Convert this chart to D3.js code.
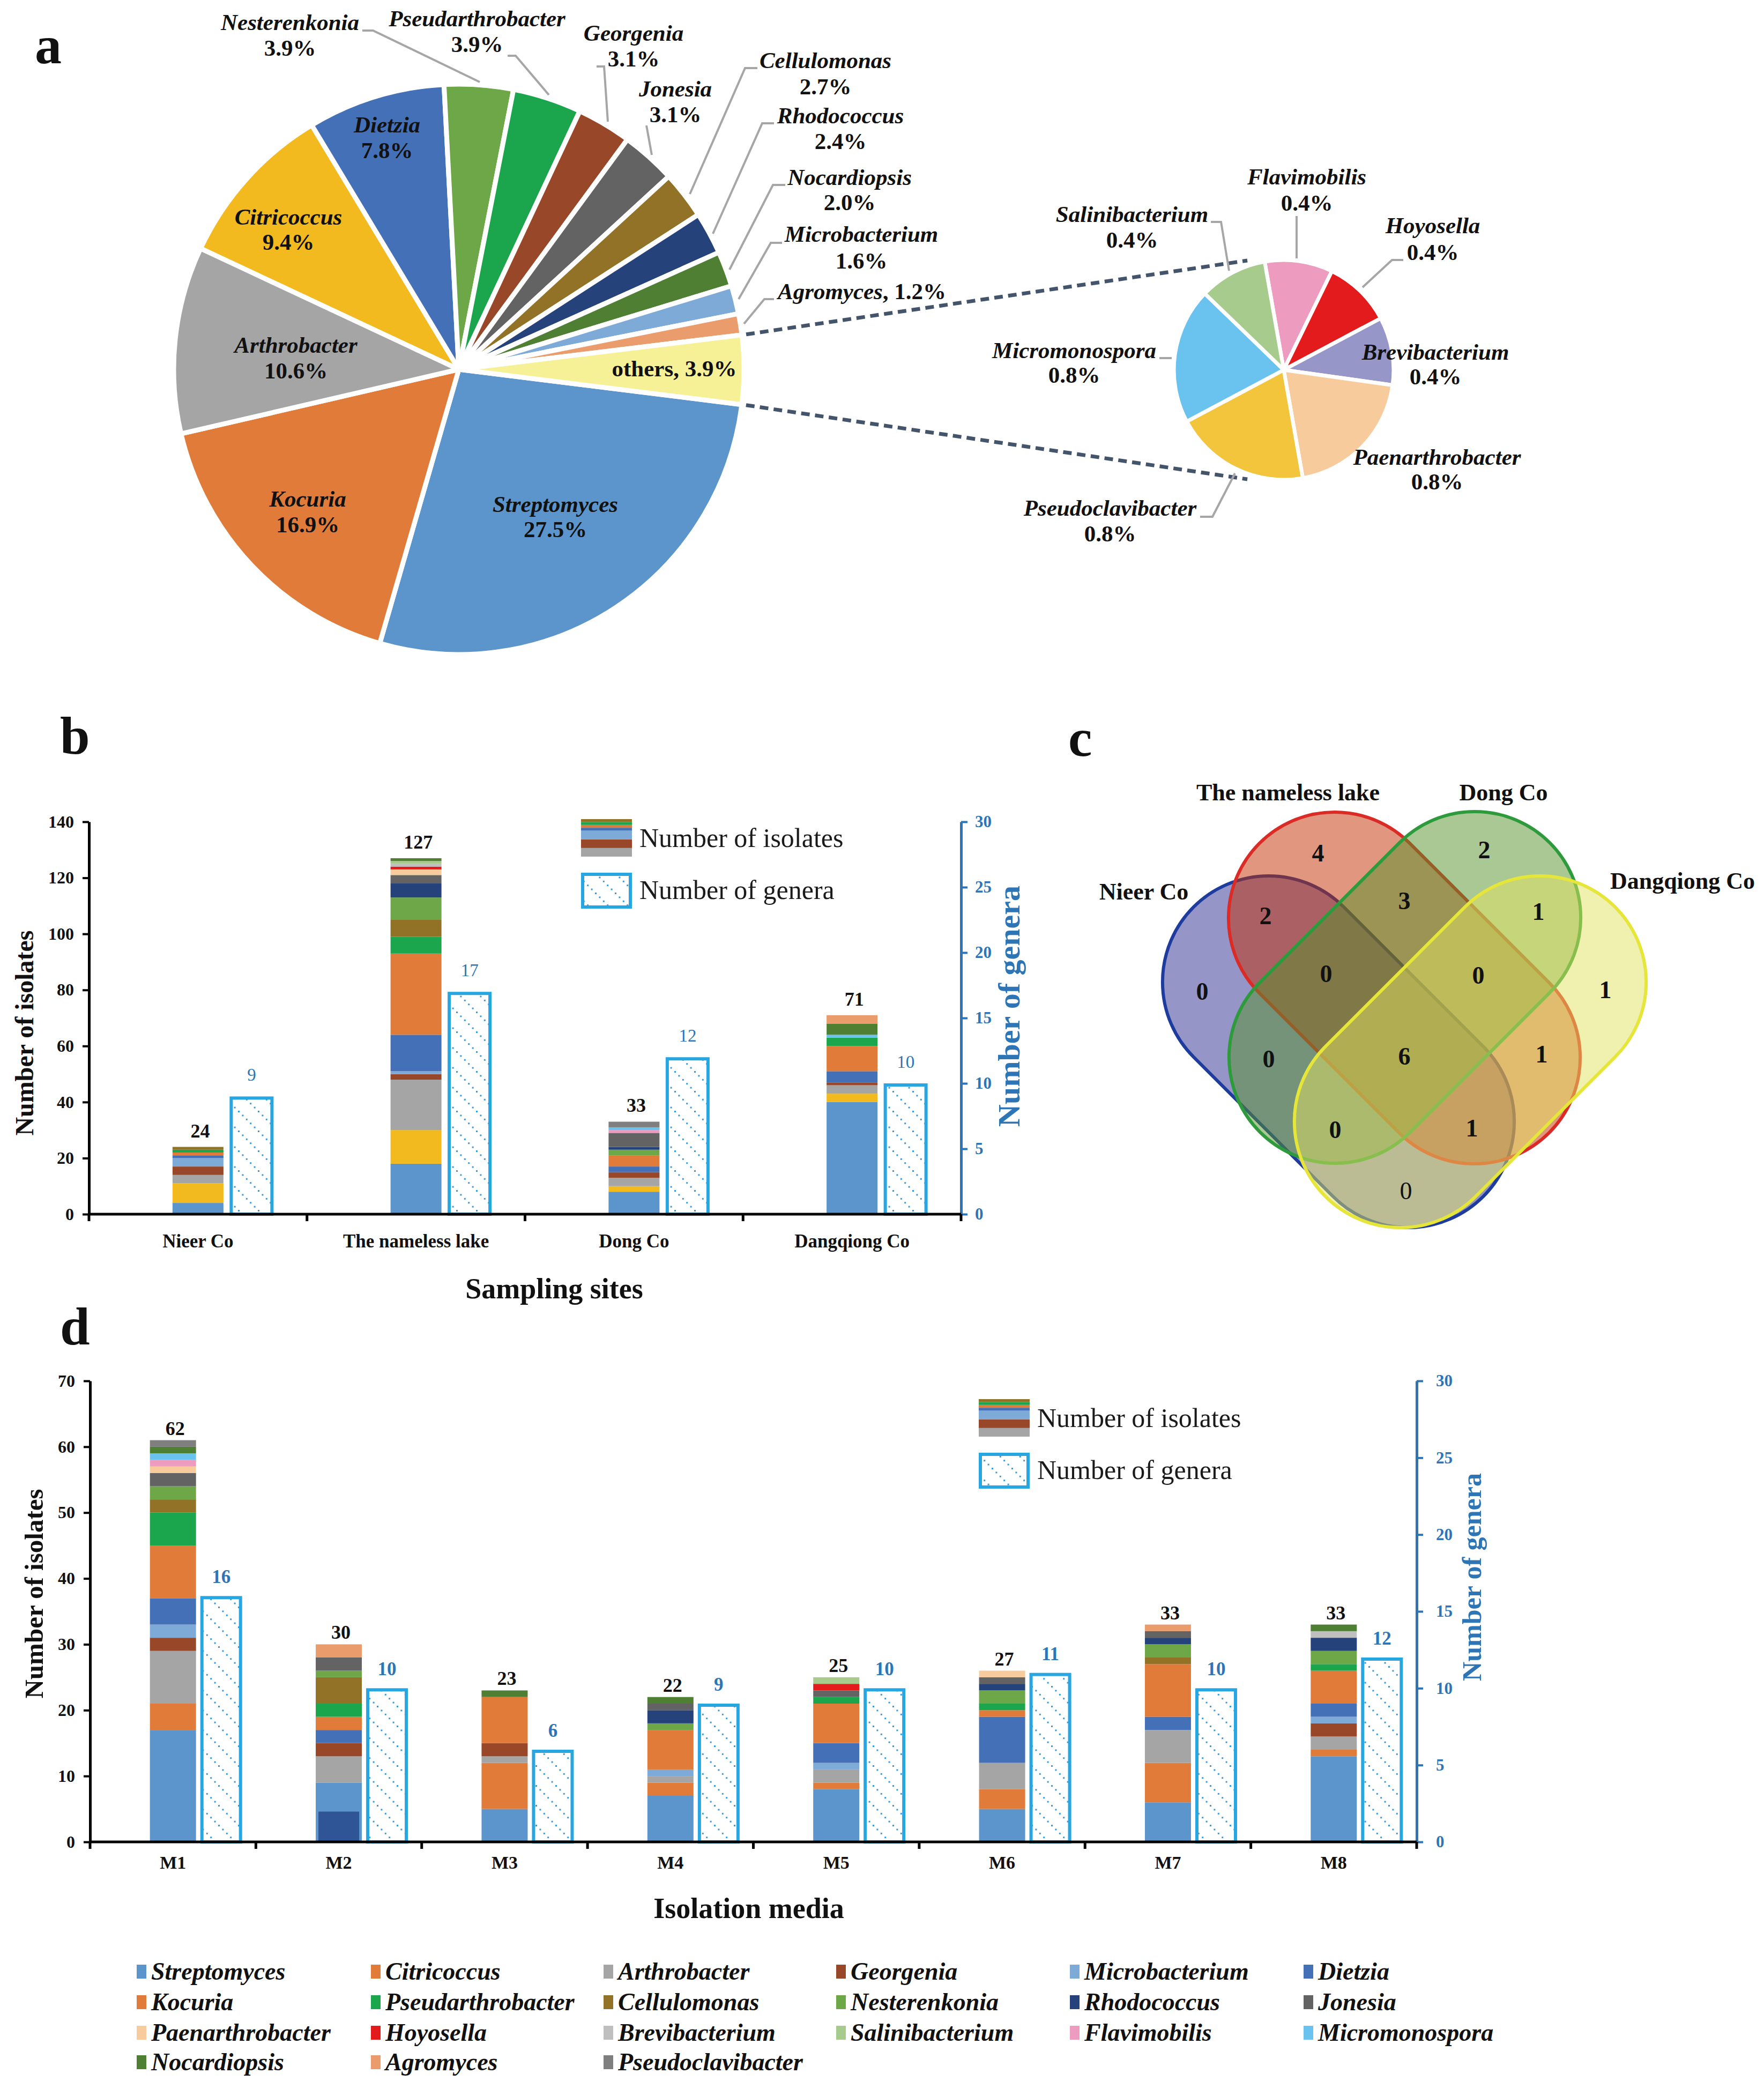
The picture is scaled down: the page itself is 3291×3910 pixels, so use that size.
<!DOCTYPE html>
<html>
<head>
<meta charset="utf-8">
<script src="https://cdn.jsdelivr.net/npm/d3@7"></script>
<style>
body { margin: 0; background: #fff; }
svg { display: block; }
text { font-family: "Liberation Serif", "Times New Roman", serif; }
</style>
</head>
<body>
<div id="chart"></div>
<script>
// ---------- data ----------
// panel a: share of isolates per genus (%)
var pieNames = ["Streptomyces","Kocuria","Arthrobacter","Citricoccus","Dietzia","Nesterenkonia","Pseudarthrobacter","Georgenia","Jonesia","Cellulomonas","Rhodococcus","Nocardiopsis","Microbacterium","Agromyces","others"];
var piePct = [27.5,16.9,10.6,9.4,7.8,3.9,3.9,3.1,3.1,2.7,2.4,2.0,1.6,1.2,3.9];
var otherNames = ["Flavimobilis","Hoyosella","Brevibacterium","Paenarthrobacter","Pseudoclavibacter","Micromonospora","Salinibacterium"];
var otherPct = [0.4,0.4,0.4,0.8,0.8,0.8,0.4];

// stacking order of the genera (= legend order)
var genera = ["Streptomyces","Citricoccus","Arthrobacter","Georgenia","Microbacterium","Dietzia","Kocuria","Pseudarthrobacter","Cellulomonas","Nesterenkonia","Rhodococcus","Jonesia","Paenarthrobacter","Hoyosella","Brevibacterium","Salinibacterium","Flavimobilis","Micromonospora","Nocardiopsis","Agromyces","Pseudoclavibacter"];

// panel b: isolates per genus for each sampling site
var sites = ["Nieer Co","The nameless lake","Dong Co","Dangqiong Co"];
var nieerCo      = [4,7,3,3,3,1,1,1,1,0,0,0,0,0,0,0,0,0,0,0,0];
var namelessLake = [18,12,18,2,1,13,29,6,6,8,5,3,2,1,1,1,0,0,1,0,0];
var dongCo       = [8,2,3,2,0,2,4,0,0,2,1,5,0,0,0,0,1,1,0,0,2];
var dangqiongCo  = [40,3,3,1,0,4,9,3,0,0,0,0,0,0,0,0,0,1,4,3,0];
var siteTotals = [24,127,33,71];
var siteGenera = [9,17,12,10];

// panel c: shared genera
var vennSets = ["Nieer Co","The nameless lake","Dong Co","Dangqiong Co"];
var vennKeys = ["N","L","D","Q","N&L","L&D","D&Q","N&L&D","L&D&Q","N&D","N&L&D&Q","L&Q","N&D&Q","N&L&Q","N&Q"];
var vennCounts = [0,4,2,1,2,3,1,0,0,0,6,1,0,1,0];

// panel d: isolates per genus for each isolation medium
var media = ["M1","M2","M3","M4","M5","M6","M7","M8"];
var m1 = [17,4,8,2,2,4,8,5,2,2,0,2,1,0,0,0,1,1,1,0,1];
var m2 = [9,0,4,2,0,2,2,2,4,1,0,2,0,0,0,0,0,0,0,2,0];
var m3 = [5,7,1,2,0,0,7,0,0,0,0,0,0,0,0,0,0,0,1,0,0];
var m4 = [7,2,1,0,1,0,6,0,0,1,2,1,0,0,0,0,0,0,1,0,0];
var m5 = [8,1,2,0,1,3,6,1,0,0,0,1,0,1,0,1,0,0,0,0,0];
var m6 = [5,3,4,0,0,7,1,1,0,2,1,1,1,0,0,0,0,0,0,0,0];
var m7 = [6,6,5,0,0,2,8,0,1,2,1,1,0,0,0,0,0,0,0,1,0];
var m8 = [13,1,2,2,1,2,5,1,0,2,2,0,0,0,1,0,0,0,1,0,0];
var mediaTotals = [62,30,23,22,25,27,33,33];
var mediaGenera = [16,10,6,9,10,11,10,12];
var m2Inset = 4.6;   // dark overlay seen at the foot of the M2 bar

var bTicks = d3.range(0, 141, 20);
var dTicks = d3.range(0, 71, 10);
var generaTicks = d3.range(0, 31, 5);

// ---------- colours ----------
var genusColors = ["#5B95CB","#E07B39","#A5A5A5","#984828","#7EAAD8","#4470B8","#E07B39","#1BA64E","#917226","#6EA747","#25427A","#636363","#F8CB9D","#E31B1D","#BFBFBF","#A6CB8C","#EE9BC0","#6AC3EF","#4E7F33","#EA9C6C","#7F7F7F"];
var siteColors = genusColors.slice();
siteColors[1] = "#F2BA1E";
var colorD = d3.scaleOrdinal(genera, genusColors);
var colorB = d3.scaleOrdinal(genera, siteColors);
var otherColors = ["#EE9BC0","#E31B1D","#9696C9","#F8CB9D","#F2C53D","#6AC3EF","#A6CB8C"];
var blueText = "#2E75B6", hatchBlue = "#27A6E1";

var W = 3291, H = 3910;
var svg = d3.select("#chart").append("svg")
  .attr("width", W).attr("height", H)
  .attr("viewBox", [0, 0, W, H]);
svg.append("rect").attr("width", W).attr("height", H).attr("fill", "#fff");

var defs = svg.append("defs");
var pat = defs.append("pattern").attr("id", "hatch")
  .attr("patternUnits", "userSpaceOnUse").attr("width", 37).attr("height", 37);
pat.append("rect").attr("width", 37).attr("height", 37).attr("fill", "#fff");
d3.range(5).forEach(function (i) {
  pat.append("rect").attr("x", i * 7.4).attr("y", i * 7.4)
    .attr("width", 3).attr("height", 3).attr("fill", "#3A9AD9");
});

function txt(g, x, y, s, o) {
  o = o || {};
  return g.append("text").attr("x", x).attr("y", y).text(s)
    .attr("font-size", o.size || 40)
    .attr("font-weight", o.weight || "bold")
    .attr("font-style", o.italic ? "italic" : "normal")
    .attr("text-anchor", o.anchor || "middle")
    .attr("fill", o.color || "#111");
}
function stackUp(values) {
  var acc = 0;
  return values.map(function (v, i) {
    var s = { g: genera[i], y0: acc, y1: acc + v };
    acc += v;
    return s;
  }).filter(function (s) { return s.y1 > s.y0; });
}
var pct = function (v) { return d3.format(".1f")(v) + "%"; };

// panel letters
txt(svg, 65, 118, "a", { size: 100, anchor: "start" });
txt(svg, 112, 1406, "b", { size: 100, anchor: "start" });
txt(svg, 1993, 1410, "c", { size: 100, anchor: "start" });
txt(svg, 112, 2508, "d", { size: 100, anchor: "start" });

// ================= panel a =================
var a0 = 97.1 * Math.PI / 180;
var mainC = [856, 689], mainR = 532;
var smallC = [2395, 690], smallR = 205;

var pieMain = d3.pie().sort(null).startAngle(a0).endAngle(a0 + 2 * Math.PI);
var arcMain = d3.arc().innerRadius(0).outerRadius(mainR);
var mainArcs = pieMain(piePct);
svg.append("g").attr("transform", "translate(" + mainC + ")")
  .selectAll("path").data(mainArcs).join("path")
    .attr("d", arcMain)
    .attr("fill", function (d, i) { return pieNames[i] === "others" ? "#F6F096" : colorB(pieNames[i]); })
    .attr("stroke", "#fff").attr("stroke-width", 9).attr("stroke-linejoin", "round");

var b0 = -10 * Math.PI / 180;
var pieSmall = d3.pie().sort(null).startAngle(b0).endAngle(b0 + 2 * Math.PI);
var arcSmall = d3.arc().innerRadius(0).outerRadius(smallR);
svg.append("g").attr("transform", "translate(" + smallC + ")")
  .selectAll("path").data(pieSmall(otherPct)).join("path")
    .attr("d", arcSmall)
    .attr("fill", function (d, i) { return otherColors[i]; })
    .attr("stroke", "#fff").attr("stroke-width", 7).attr("stroke-linejoin", "round");

// dashed connectors from the "others" slice to the secondary pie
var oth = mainArcs[mainArcs.length - 1];
function polar(c, r, ang) { return [c[0] + r * Math.sin(ang), c[1] - r * Math.cos(ang)]; }
var linkAng = 18.4 * Math.PI / 180;
[[oth.startAngle, -linkAng], [oth.endAngle, Math.PI + linkAng]].forEach(function (p) {
  var s = polar(mainC, mainR + 8, p[0]), e = polar(smallC, smallR + 10, p[1]);
  svg.append("line").attr("x1", s[0]).attr("y1", s[1]).attr("x2", e[0]).attr("y2", e[1])
    .attr("stroke", "#44546A").attr("stroke-width", 7).attr("stroke-dasharray", "16 10");
});

// label layout: [x, name baseline, percent baseline]
var pieLabelPos = {
  "Streptomyces": [1036, 955, 1002], "Kocuria": [574, 945, 993], "Arthrobacter": [552, 658, 706],
  "Citricoccus": [538, 419, 466], "Dietzia": [722, 247, 295], "Nesterenkonia": [541, 56, 104],
  "Pseudarthrobacter": [890, 49, 97], "Georgenia": [1182, 76, 124], "Jonesia": [1260, 180, 228],
  "Cellulomonas": [1540, 127, 176], "Rhodococcus": [1568, 230, 278], "Nocardiopsis": [1585, 345, 392],
  "Microbacterium": [1607, 451, 501],
  "Flavimobilis": [2438, 344, 393], "Hoyosella": [2673, 435, 485], "Brevibacterium": [2678, 671, 717],
  "Paenarthrobacter": [2681, 867, 913], "Pseudoclavibacter": [2071, 962, 1010],
  "Micromonospora": [2004, 668, 714], "Salinibacterium": [2112, 414, 462]
};
var leaders = [
  [[676, 57], [696, 57], [895, 153]], [[947, 104], [962, 104], [1024, 177]],
  [[1113, 124], [1127, 124], [1134, 227]], [[1206, 234], [1216, 289]],
  [[1413, 127], [1390, 127], [1287, 362]], [[1444, 230], [1422, 230], [1330, 436]],
  [[1465, 345], [1442, 345], [1361, 503]], [[1459, 453], [1438, 453], [1378, 558]],
  [[1444, 558], [1426, 558], [1388, 604]],
  [[2419, 403], [2419, 482]], [[2618, 485], [2597, 485], [2542, 536]],
  [[2239, 964], [2262, 964], [2304, 883]], [[2163, 668], [2186, 668]],
  [[2259, 414], [2278, 414], [2293, 505]]
];
svg.append("g").selectAll("path").data(leaders).join("path")
  .attr("d", d3.line()).attr("fill", "none")
  .attr("stroke", "#A6A6A6").attr("stroke-width", 4);

var labA = svg.append("g");
pieNames.concat(otherNames).forEach(function (name, i) {
  var v = i < pieNames.length ? piePct[i] : otherPct[i - pieNames.length];
  var p = pieLabelPos[name];
  if (p) {
    txt(labA, p[0], p[1], name, { size: 43, italic: true });
    txt(labA, p[0], p[2], pct(v), { size: 43 });
  }
});
var ag = txt(labA, 1451, 558, "", { size: 43, anchor: "start" });
ag.append("tspan").attr("font-style", "italic").text("Agromyces");
ag.append("tspan").text(", " + pct(piePct[13]));
txt(labA, 1258, 702, "others, " + pct(piePct[14]), { size: 43 });

// ================= shared bar helpers =================
function drawPanel(cfg) {
  var g = svg.append("g");
  var x = d3.scaleBand().domain(cfg.cats).range([cfg.left, cfg.right]);
  var y = d3.scaleLinear().domain([0, cfg.yMax]).range([cfg.bottom, cfg.top]);
  var y2 = d3.scaleLinear().domain([0, 30]).range([cfg.bottom, cfg.top]);
  var bw = x.bandwidth();
  var cx = function (c) { return x(c) + bw / 2; };

  cfg.rows.forEach(function (vals, k) {
    var c = cfg.cats[k];
    g.append("g").selectAll("rect").data(stackUp(vals)).join("rect")
      .attr("x", cx(c) - cfg.barW / 2).attr("width", cfg.barW)
      .attr("y", function (d) { return y(d.y1); })
      .attr("height", function (d) { return y(d.y0) - y(d.y1); })
      .attr("fill", function (d) { return cfg.color(d.g); });
    var top = d3.sum(vals);
    txt(g, cx(c) + 4, y(top) - cfg.totGap, cfg.totals[k], { size: 36 });
    // genera bar (secondary axis)
    var gx = cx(c) + cfg.hOff;
    g.append("rect").attr("x", gx + 3).attr("width", cfg.hW - 6)
      .attr("y", y2(cfg.gen[k]) + 3).attr("height", y2(0) - y2(cfg.gen[k]) - 3)
      .attr("fill", "url(#hatch)").attr("stroke", hatchBlue).attr("stroke-width", 6);
    txt(g, gx + cfg.hW / 2, y2(cfg.gen[k]) - cfg.genGap, cfg.gen[k],
      { size: cfg.genSize, color: blueText, weight: cfg.genWeight });
  });
  if (cfg.extra) cfg.extra(g, x, y, cx);

  // left axis
  var la = g.append("g").attr("transform", "translate(" + cfg.left + ",0)")
    .call(d3.axisLeft(y).tickValues(cfg.ticks).tickSize(12).tickPadding(16).tickSizeOuter(0));
  la.select(".domain").attr("stroke", "#000").attr("stroke-width", 5);
  la.selectAll(".tick line").attr("stroke", "#000").attr("stroke-width", 4);
  la.selectAll("text").attr("font-size", 32).attr("font-weight", "bold")
    .attr("font-family", "Liberation Serif").attr("fill", "#111");
  // right axis
  var ra = g.append("g").attr("transform", "translate(" + cfg.right + ",0)")
    .call(d3.axisRight(y2).tickValues(generaTicks).tickSize(12).tickPadding(cfg.rPad).tickSizeOuter(0));
  ra.select(".domain").attr("stroke", blueText).attr("stroke-width", 5);
  ra.selectAll(".tick line").attr("stroke", blueText).attr("stroke-width", 4);
  ra.selectAll("text").attr("font-size", 31).attr("font-weight", "bold")
    .attr("font-family", "Liberation Serif").attr("fill", blueText);
  // bottom axis with ticks on the category borders
  g.append("line").attr("x1", cfg.left).attr("x2", cfg.right)
    .attr("y1", cfg.bottom).attr("y2", cfg.bottom)
    .attr("stroke", "#000").attr("stroke-width", 5);
  g.append("g").selectAll("line").data(cfg.cats.map(function (c) { return x(c); }).concat([cfg.right]))
    .join("line").attr("x1", function (d) { return d; }).attr("x2", function (d) { return d; })
    .attr("y1", cfg.bottom).attr("y2", cfg.bottom + 13)
    .attr("stroke", "#000").attr("stroke-width", 5);
  cfg.cats.forEach(function (c) { txt(g, cx(c), cfg.catY, c, { size: cfg.catSize }); });

  // titles
  txt(g, cfg.xTitle[0], cfg.xTitle[1], cfg.xTitle[2], { size: 54 });
  txt(g, 0, 0, "Number of isolates", { size: cfg.lSize })
    .attr("dy", "0.35em")
    .attr("transform", "translate(" + cfg.lTitle + ") rotate(-90)");
  txt(g, 0, 0, "Number of genera", { size: cfg.rSize, color: blueText })
    .attr("dy", "0.35em")
    .attr("transform", "translate(" + cfg.rTitle + ") rotate(-90)");

  // legend
  var L = cfg.legend;
  var sw = stackUp(nieerCo).slice(2);
  var sy = d3.scaleLinear().domain([sw[0].y0, sw[sw.length - 1].y1]).range([L[1] + 70, L[1]]);
  g.append("g").selectAll("rect").data(sw).join("rect")
    .attr("x", L[0]).attr("width", 95)
    .attr("y", function (d) { return sy(d.y1); })
    .attr("height", function (d) { return sy(d.y0) - sy(d.y1); })
    .attr("fill", function (d) { return cfg.color(d.g); });
  g.append("rect").attr("x", L[0] + 3).attr("y", L[1] + 103).attr("width", 89).attr("height", 61)
    .attr("fill", "url(#hatch)").attr("stroke", hatchBlue).attr("stroke-width", 6);
  txt(g, L[0] + 109, L[1] + 52, "Number of isolates", { size: 50, weight: "normal", anchor: "start", color: "#1a1a1a" });
  txt(g, L[0] + 109, L[1] + 149, "Number of genera", { size: 50, weight: "normal", anchor: "start", color: "#1a1a1a" });
}

// ================= panel b =================
drawPanel({
  cats: sites, rows: [nieerCo, namelessLake, dongCo, dangqiongCo],
  totals: siteTotals, gen: siteGenera, color: colorB,
  left: 166, right: 1793, top: 1533, bottom: 2265, yMax: 140, ticks: bTicks,
  barW: 95, hOff: 59, hW: 82, totGap: 18, genGap: 29, genSize: 33, genWeight: "normal",
  rPad: 14, catY: 2327, catSize: 35,
  xTitle: [1034, 2422, "Sampling sites"],
  lTitle: [45, 1927], lSize: 48, rTitle: [1882, 1877], rSize: 58,
  legend: [1084, 1528]
});

// ================= panel d =================
drawPanel({
  cats: media, rows: [m1, m2, m3, m4, m5, m6, m7, m8],
  totals: mediaTotals, gen: mediaGenera, color: colorD,
  left: 168, right: 2643, top: 2576, bottom: 3436, yMax: 70, ticks: dTicks,
  barW: 86, hOff: 51, hW: 78, totGap: 10, genGap: 24, genSize: 35, genWeight: "bold",
  rPad: 24, catY: 3486, catSize: 34,
  xTitle: [1397, 3578, "Isolation media"],
  lTitle: [63, 2973], lSize: 49, rTitle: [2745, 2942], rSize: 50,
  legend: [1826, 2610],
  extra: function (g, x, y, cx) {
    g.append("rect").attr("x", cx("M2") - 38).attr("width", 76)
      .attr("y", y(m2Inset)).attr("height", y(0) - y(m2Inset))
      .attr("fill", "#2F5597");
  }
});

// ================= panel c =================
// capsule-shaped sets (half length 382, half width 198)
var capA = 382, capB = 198;
var vennShapes = [
  { c: [2497, 1962], rot: 45, fill: "#2B2B91", stroke: "#1D3C9E" },
  { c: [2620, 1843], rot: 45, fill: "#C22D00", stroke: "#DB2B26" },
  { c: [2621, 1842], rot: -45, fill: "#559129", stroke: "#2D9A3B" },
  { c: [2743, 1962], rot: -45, fill: "#E1E15F", stroke: "#E5E53A" }
];
var vg = svg.append("g");
vg.selectAll("rect").data(vennShapes).join("rect")
  .attr("x", -capA).attr("y", -capB).attr("width", 2 * capA).attr("height", 2 * capB)
  .attr("rx", capB).attr("ry", capB)
  .attr("transform", function (d) { return "translate(" + d.c + ") rotate(" + d.rot + ")"; })
  .attr("fill", function (d) { return d.fill; }).attr("fill-opacity", 0.5)
  .attr("stroke", function (d) { return d.stroke; }).attr("stroke-width", 6);
var vennTitlePos = [[2134, 1678], [2403, 1493], [2805, 1493], [3139, 1658]];
vennSets.forEach(function (s, i) { txt(vg, vennTitlePos[i][0], vennTitlePos[i][1], s, { size: 44 }); });
var vennSpots = {
  "N": [2243, 1849], "L": [2459, 1591], "D": [2769, 1585], "Q": [2995, 1846],
  "N&L": [2361, 1708], "L&D": [2620, 1680], "D&Q": [2870, 1700], "N&L&D": [2474, 1816],
  "L&D&Q": [2758, 1819], "N&D": [2367, 1975], "N&L&D&Q": [2620, 1970], "L&Q": [2876, 1966],
  "N&D&Q": [2491, 2107], "N&L&Q": [2746, 2104], "N&Q": [2623, 2221]
};
vennKeys.forEach(function (k, i) {
  var p = vennSpots[k];
  txt(vg, p[0], p[1] + 16, vennCounts[i], { size: 46, weight: k === "N&Q" ? "normal" : "bold" });
});

// ================= genus legend =================
var legX = [255, 692, 1126, 1560, 1996, 2432];
var legY = [3678, 3735, 3792, 3847];
var lg = svg.append("g");
genera.forEach(function (name, i) {
  var px = legX[i % 6], py = legY[Math.floor(i / 6)];
  lg.append("rect").attr("x", px).attr("y", py - 13).attr("width", 18).attr("height", 26)
    .attr("fill", colorD(name));
  txt(lg, px + 27, py + 15, name, { size: 46, italic: true, anchor: "start" });
});
</script>
</body>
</html>
